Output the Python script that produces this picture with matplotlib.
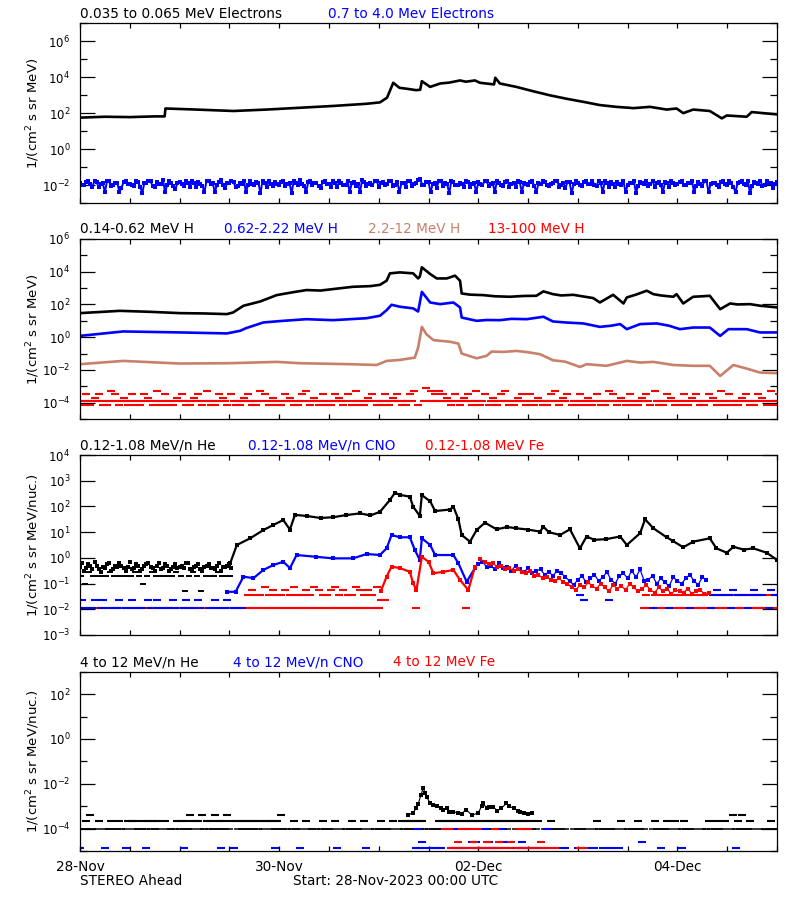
import numpy as np
import matplotlib
matplotlib.use('Agg')
import matplotlib.pyplot as plt

plt.rcParams['font.family'] = ['DejaVu Sans']
plt.rcParams['mathtext.default'] = 'regular'

# ---------------- data (hours from 28-Nov-2023 00:00 UTC, values as log10 flux) -------------
day_ticks = [0, 12, 24, 36, 48, 60, 72, 84, 96, 108, 120, 132, 144, 156, 168]
day_labels = ['28-Nov', '', '', '', '30-Nov', '', '', '', '02-Dec', '', '', '', '04-Dec', '', '']

# panel 1: electrons
e_lo_t = [0, 6, 12, 18, 20.4, 20.6, 28, 37, 45, 53, 61, 69, 72.3, 74, 75, 75.5, 77, 79, 81, 82, 82.4,
          84.4, 86.8, 89, 91.6, 93, 95.2, 96.4, 99.8, 100.1, 101.2, 105.2, 109.2, 113.3, 117.3, 121.3,
          125.3, 129.3, 133.4, 137.4, 141.4, 143.8, 145.4, 147.8, 151.8, 154.7, 155.9, 160.7, 161.9, 168]
e_lo_v = [1.75, 1.8, 1.78, 1.82, 1.82, 2.26, 2.2, 2.12, 2.2, 2.3, 2.4, 2.52, 2.6, 2.86, 3.41, 3.69,
          3.41, 3.35, 3.28, 3.3, 3.78, 3.46, 3.65, 3.7, 3.82, 3.75, 3.82, 3.69, 3.6, 3.97, 3.65, 3.46,
          3.22, 2.99, 2.8, 2.63, 2.45, 2.35, 2.28, 2.35, 2.2, 2.26, 2.0, 2.2, 2.12, 1.71, 1.87, 1.8,
          2.06, 1.93]
# 0.7-4.0 MeV electrons, samples at :00 and :30 of every hour
e_hi_a = [-1.9, -2.0, -1.8, -2.1, -1.85, -1.95, -2.4, -1.8, -2.0, -1.9, -2.15, -1.75, -1.95, -2.05, -1.85, -2.45, -1.9, -1.8, -2.1, -1.95, -1.7, -2.0, -1.9, -2.2,
          -1.85, -2.05, -1.9, -1.75, -2.1, -1.95, -2.4, -1.8, -1.9, -2.0, -1.7, -2.15, -1.9, -1.85, -2.05, -1.95, -2.4, -1.8, -2.0, -1.9, -1.75, -2.1, -1.95, -1.85,
          -2.0, -1.8, -1.95, -2.45, -1.9, -1.7, -2.05, -1.85, -2.0, -1.9, -2.15, -1.8, -1.95, -1.75, -2.1, -1.9, -2.0, -2.4, -1.85, -1.95, -1.7, -2.05, -1.9, -1.8,
          -2.1, -1.85, -1.95, -1.8, -2.0, -2.4, -1.9, -1.75, -2.05, -1.9, -1.65, -2.0, -1.85, -1.95, -2.15, -1.8, -1.9, -2.45, -1.85, -2.0, -1.95, -1.75, -2.1, -1.9,
          -1.85, -2.0, -1.8, -1.95, -2.4, -1.9, -2.05, -1.75, -1.95, -2.1, -1.85, -1.9, -2.0, -1.8, -2.4, -1.95, -1.85, -2.05, -1.9, -1.75, -2.0, -2.15, -1.85, -1.95,
          -1.9, -2.05, -1.8, -1.95, -2.0, -1.75, -2.4, -1.9, -1.85, -2.1, -1.95, -1.8, -2.0, -1.9, -2.45, -1.85, -1.95, -2.05, -1.75, -1.9, -2.0, -1.85, -2.1, -1.9,
          -1.95, -1.8, -2.0, -1.9, -2.4, -1.85, -2.05, -1.75, -1.95, -1.9, -2.1, -1.8, -2.0, -1.9, -2.4, -1.85, -1.95, -1.8, -2.05, -1.9, -1.75, -2.0, -1.9, -2.15,
          -1.85]
e_hi_b = [-2.0, -1.85, -1.95, -1.75, -2.1, -1.9, -1.8, -2.05, -1.9, -2.4, -1.85, -1.95, -2.0, -1.8, -2.1, -1.9, -1.75, -2.05, -1.85, -1.95, -2.4, -1.8, -2.05, -1.9,
          -1.95, -1.8, -2.1, -1.9, -1.85, -2.05, -1.75, -1.95, -2.4, -1.85, -2.0, -1.9, -1.8, -2.1, -1.9, -1.75, -2.0, -1.95, -1.85, -2.45, -1.9, -1.8, -2.05, -1.95,
          -1.85, -2.05, -1.9, -1.8, -2.0, -1.95, -2.4, -1.75, -1.9, -2.05, -1.85, -1.95, -2.1, -1.9, -1.8, -2.0, -1.75, -1.9, -2.05, -2.4, -1.85, -1.95, -2.0, -1.75,
          -1.9, -2.0, -1.75, -2.05, -1.85, -1.9, -2.1, -1.8, -1.95, -1.7, -2.0, -1.85, -2.4, -1.9, -1.75, -2.05, -1.95, -1.8, -2.0, -1.9, -2.1, -1.85, -1.95, -2.4,
          -1.95, -1.8, -2.05, -1.9, -1.75, -2.0, -1.85, -2.1, -1.9, -1.8, -2.4, -1.95, -1.85, -2.05, -1.9, -1.75, -2.0, -1.95, -1.8, -2.1, -1.9, -1.85, -2.45, -1.8,
          -2.0, -1.85, -1.95, -1.75, -2.05, -1.9, -1.8, -2.1, -1.95, -1.85, -2.0, -2.4, -1.9, -1.75, -2.05, -1.9, -1.8, -1.95, -2.1, -1.85, -2.4, -1.9, -1.8, -2.0,
          -1.85, -2.0, -1.9, -1.75, -2.05, -1.95, -1.8, -2.4, -1.9, -2.0, -1.85, -1.95, -1.75, -2.1, -1.9, -1.8, -2.0, -2.45, -1.85, -1.95, -2.05, -1.8, -1.9, -1.95,
          -2.0]

# panel 2: protons
h_lo_t = [0, 9.6, 16.9, 24.1, 30, 35.4, 36.9, 39.4, 43.4, 47.4, 51.4, 54.6, 58, 61, 65.8, 70, 72.3, 73.9,
          74.7, 77.1, 80.3, 81.5, 81.9, 82.4, 84.4, 86, 88.4, 90.4, 91.6, 92, 94, 97.2, 100, 103.6,
          107, 110, 111.7, 114, 116, 118.9, 121, 123.7, 125.3, 128.5, 131, 131.8, 134, 136.6, 138.2,
          140, 143, 143.8, 145.4, 147.8, 150, 151.8, 154.3, 156.7, 158.5, 161.5, 164, 168]
h_lo_v = [1.47, 1.61, 1.55, 1.47, 1.45, 1.41, 1.51, 1.92, 2.18, 2.57, 2.75, 2.88, 2.85, 2.94, 3.08, 3.12,
          3.2, 3.45, 3.9, 3.96, 3.9, 3.59, 3.7, 4.27, 3.86, 3.59, 3.59, 3.76, 3.45, 2.67, 2.6, 2.57,
          2.5, 2.47, 2.52, 2.53, 2.8, 2.63, 2.55, 2.59, 2.5, 2.39, 2.12, 2.59, 2.06, 2.43, 2.6, 2.84,
          2.63, 2.55, 2.47, 2.63, 2.06, 2.47, 2.5, 2.53, 1.71, 2.06, 2.0, 2.02, 1.92, 1.82]
h_mid_t = [0, 10.4, 24.1, 35.4, 38.6, 40, 44.2, 49, 54.6, 61, 69.1, 72.3, 73.9, 75.1, 77.1, 80.3, 81.5,
           82.4, 84.4, 86.8, 90, 91.6, 92, 95.6, 98, 101.2, 104, 107.7, 111.7, 114, 117, 121.3, 125.3,
           128, 130.2, 131.8, 135, 139, 142, 144.6, 147.8, 151.8, 154.3, 156.3, 160.7, 163.9, 168]
h_mid_v = [0.08, 0.35, 0.29, 0.23, 0.39, 0.55, 0.9, 1.0, 1.1, 1.04, 1.16, 1.31, 1.65, 1.98, 1.86, 1.76,
           1.57, 2.77, 2.12, 2.02, 2.12, 1.82, 1.2, 1.0, 1.05, 1.04, 1.12, 1.1, 1.25, 0.96, 0.9, 0.84,
           0.63, 0.7, 0.8, 0.49, 0.8, 0.84, 0.7, 0.49, 0.59, 0.59, 0.08, 0.49, 0.49, 0.29, 0.29]
h_hi_t = [0, 10.4, 24, 36, 47.4, 53, 65, 71.5, 73.9, 77.1, 80.7, 81.5, 82.4, 83.5, 85.2, 89.2, 91.2, 92,
          95.6, 98, 99.2, 102, 105.2, 108, 110.9, 114, 117, 120.5, 122.1, 126.9, 131.8, 135, 138.2,
          143, 147.8, 151.8, 154.3, 157.5, 160.7, 163.9, 168]
h_hi_v = [-1.65, -1.45, -1.61, -1.59, -1.51, -1.59, -1.65, -1.7, -1.45, -1.39, -1.25, -0.63, 0.63, 0.18,
          -0.18, -0.28, -0.39, -1.0, -1.29, -1.14, -0.88, -0.9, -0.84, -0.92, -1.04, -1.41, -1.5,
          -1.82, -1.65, -1.75, -1.45, -1.55, -1.51, -1.7, -1.75, -1.75, -2.37, -1.7, -1.92, -2.16, -2.2]
# 13-100 MeV H: count-quantised levels, hourly level codes at :00 and :30
h13_lv = [np.nan, 6.7e-5, 1.33e-4, 2.0e-4, 2.7e-4, 3.3e-4, 5.0e-4, 8.0e-4]
h13_a = [2, 2, 2, 2, 2, 0, 2, 2, 2, 2, 2, 2, 2, 2, 0, 2, 2, 2, 2, 2, 2, 2, 2, 2,
         2, 2, 2, 0, 2, 2, 2, 2, 2, 2, 2, 2, 0, 2, 2, 2, 2, 2, 2, 2, 2, 0, 2, 2,
         2, 2, 2, 2, 2, 2, 2, 0, 2, 2, 2, 2, 2, 2, 2, 2, 2, 0, 2, 2, 2, 2, 2, 2,
         2, 2, 2, 2, 2, 2, 2, 2, 2, 0, 0, 2, 2, 2, 2, 2, 2, 2, 2, 2, 2, 2, 2, 2,
         2, 2, 0, 2, 2, 2, 2, 2, 2, 2, 2, 2, 2, 0, 2, 2, 2, 2, 2, 2, 2, 2, 0, 2,
         2, 2, 2, 2, 2, 2, 0, 2, 2, 2, 2, 2, 2, 2, 2, 2, 2, 2, 0, 2, 2, 2, 2, 2,
         2, 2, 2, 2, 0, 2, 2, 2, 2, 2, 2, 2, 2, 2, 2, 2, 0, 2, 2, 2, 2, 2, 2, 2,
         2]
h13_b = [1, 5, 1, 3, 5, 1, 1, 6, 5, 1, 3, 1, 5, 1, 1, 5, 3, 1, 6, 1, 5, 1, 1, 3,
         5, 1, 1, 3, 5, 1, 6, 1, 1, 5, 3, 1, 5, 1, 1, 3, 5, 1, 1, 6, 5, 1, 3, 1,
         1, 5, 3, 1, 1, 5, 6, 1, 3, 1, 5, 1, 1, 5, 3, 1, 5, 1, 6, 1, 1, 3, 5, 1,
         1, 5, 1, 3, 5, 1, 1, 5, 6, 1, 0, 7, 6, 5, 6, 5, 3, 1, 5, 1, 3, 5, 1, 6,
         1, 5, 1, 3, 1, 5, 6, 1, 1, 3, 5, 1, 5, 1, 3, 1, 1, 5, 6, 1, 3, 5, 1, 1,
         5, 1, 3, 1, 5, 1, 1, 6, 5, 1, 3, 1, 5, 1, 1, 3, 5, 1, 6, 1, 1, 5, 3, 1,
         1, 5, 1, 3, 5, 1, 1, 5, 3, 1, 6, 1, 5, 1, 1, 3, 5, 1, 1, 5, 3, 1, 6, 1,
         5]

# panel 3: 0.12-1.08 MeV/n heavy ions
he_early_a = [-0.35, -0.5, -0.25, -0.45, -0.3, -0.55, -0.4, -0.2, -0.45, -0.35, -0.3, -0.5, -0.15,
              -0.4, -0.3, -0.45, -0.25, -0.35, -0.5, -0.2, -0.4, -0.3, -0.45, -0.25, -0.35, -0.4,
              -0.2, -0.5, -0.3, -0.45, -0.35, -0.25, -0.4, -0.3, -0.5, -0.35, -0.25]
he_early_c = [-0.2, -0.4, -0.3, -0.15, -0.45, -0.35, -0.25, -0.5, -0.3, -0.2, -0.4, -0.35, -0.45,
              -0.25, -0.5, -0.3, -0.2, -0.4, -0.3, -0.45, -0.25, -0.5, -0.35, -0.4, -0.3, -0.2,
              -0.45, -0.35, -0.25, -0.5, -0.3, -0.4, -0.45, -0.2, -0.35, -0.3, -0.4]
he_early_b = [-0.69, -1.0, -0.55, -0.69, -0.69, -0.69, -0.69, -0.55, -0.69, -0.69, -0.69, -0.69,
              -0.69, -0.55, -0.69, -1.0, -0.69, -0.55, -0.69, -0.69, -0.69, -0.69, -0.69, -0.55,
              -0.69, -1.29, -0.69, -0.55, -0.69, -1.29, -0.69, -0.69, -0.69, -0.55, -0.69, -0.69, -0.69]
he_t = [36.2, 37.8, 41, 44.2, 46.6, 49, 50.6, 51.8, 54.6, 58, 61, 64, 67.5, 70, 72.3, 74.7, 75.9, 77.1,
        79.5, 80.3, 81.9, 82.4, 84.4, 85.6, 89.2, 90, 91.2, 92, 94, 95.6, 97.6, 100.4, 103, 105.2,
        108, 110.9, 111.7, 113, 115.7, 118.1, 120.5, 122.1, 124, 126.9, 130.2, 131.8, 135, 136.2,
        138.2, 141.4, 143, 145.4, 147.8, 151.8, 153.4, 155.9, 157.5, 160, 162.3, 165.5, 168]
he_v = [-0.21, 0.5, 0.76, 1.08, 1.28, 1.47, 1.1, 1.67, 1.63, 1.55, 1.58, 1.66, 1.73, 1.65, 1.79, 2.25,
        2.53, 2.45, 2.38, 1.99, 1.63, 2.44, 2.2, 1.82, 1.88, 1.99, 1.5, 0.89, 0.63, 1.08, 1.37, 1.11,
        1.2, 1.15, 1.1, 1.02, 1.21, 1.0, 0.89, 1.11, 0.37, 0.83, 0.7, 0.73, 0.83, 0.5, 0.96, 1.5,
        1.15, 0.8, 0.65, 0.41, 0.63, 0.76, 0.37, 0.2, 0.43, 0.32, 0.37, 0.2, -0.08]
cno_t = [35.4, 37.5, 39.4, 41.8, 44.2, 46.6, 49, 50.6, 52.2, 57, 61, 65.8, 69.1, 72.3, 73.9, 75.1, 77.1,
         79.5, 80.7, 81.9, 82.4, 84.4, 85.6, 90, 91.2, 93.2, 95.2]
cno_v = [-1.32, -1.32, -0.73, -0.79, -0.47, -0.28, -0.15, -0.4, 0.11, 0.04, -0.02, -0.02, 0.15, 0.11,
         0.37, 0.89, 0.8, 0.8, 0.31, -0.08, 0.76, 0.5, 0.11, 0.11, -0.21, -0.93, -0.4]
fe_t = [72.5, 73.9, 75.1, 77.1, 79.5, 80.3, 81.1, 82.4, 84, 85.2, 87.6, 90, 91.6, 93.6, 95.2]
fe_v = [-1.3, -0.73, -0.34, -0.4, -0.54, -0.99, -1.25, 0.04, -0.15, -0.6, -0.54, -0.47, -0.86, -1.25,
        -0.34]
# hourly CNO and Fe from 96 h to 151 h
late_start = 96
cno_late = [-0.25, -0.15, -0.35, -0.3, -0.45, -0.2, -0.4, -0.35, -0.5, -0.3, -0.45, -0.55, -0.4, -0.6,
            -0.5, -0.45, -0.65, -0.55, -0.7, -0.5, -0.6, -0.75, -0.9, -1.05, -0.85, -0.7, -0.95, -0.8,
            -0.65, -0.9, -0.75, -0.55, -0.85, -1.0, -0.7, -0.6, -0.8, -0.5, -0.75, -0.45, -0.9, -0.85,
            -0.7, -1.0, -0.8, -0.95, -1.1, -0.75, -0.9, -1.0, -0.8, -0.65, -0.9, -1.05, -0.75, -0.85]
fe_late = [-0.05, -0.15, -0.25, -0.2, -0.35, -0.3, -0.45, -0.4, -0.5, -0.45, -0.55, -0.6, -0.5, -0.7,
           -0.65, -0.8, -0.75, -0.85, -0.9, -0.8, -0.95, -1.0, -1.15, -1.25, -1.05, -1.15, -0.95, -1.1,
           -1.2, -1.0, -1.15, -1.3, -1.05, -1.2, -1.1, -1.25, -1.0, -1.15, -1.3, -1.2, -1.05, -1.25,
           -1.35, -1.15, -1.3, -1.2, -1.4, -1.25, -1.3, -1.35, -1.2, -1.4, -1.3, -1.25, -1.4, -1.35]
# one-count floors, hourly level codes
p3_lv = [np.nan, 1.1e-2, 2.3e-2, 3.6e-2, 5.5e-2, 7.5e-2]
fe3_a = [1, 0] * 12 + [1, 0] * 6 + [1, 0, 1, 0] + [1] * 8 + [1] * 24 + \
        [1, 0, 0, 0, 0, 0, 0, 0, 0, 1, 0, 0, 0, 0, 0, 0, 0, 0, 0, 0, 0, 1, 0, 0] + [0] * 24 + \
        [0] * 16 + [1, 1, 0, 1, 1, 1, 0, 1] + \
        [1, 1, 1, 0, 1, 1, 1, 1, 0, 1, 1, 1, 1, 0, 1, 1, 1, 0, 1, 1, 1, 1, 0, 1] + [1]
cno3_a = [0, 1] * 12 + [0, 1] * 6 + [0, 1, 0, 1] + [0] * 8 + [0] * 72 + \
         [0] * 16 + [0, 0, 1, 0, 0, 0, 1, 0] + \
         [0, 0, 0, 1, 0, 0, 0, 0, 1, 0, 0, 0, 0, 1, 0, 0, 0, 1, 0, 0, 0, 0, 1, 0] + [0]
cno3_b = [2, 0, 0, 2, 0, 2, 0, 0, 0, 2, 0, 0, 2, 0, 0, 0, 2, 0, 2, 0, 0, 0, 2, 0] + \
         [0, 2, 0, 0, 2, 0, 0, 0, 2, 0, 0, 2] + [0] * 12 + [0] * 72 + \
         [3, 2, 0, 0, 0, 0, 0, 2] + [0] * 16 + \
         [0, 0, 0, 0, 0, 0, 0, 0, 3, 4, 3, 0, 3, 4, 3, 3, 0, 3, 4, 3, 3, 0, 4, 3] + [3]
fe3_b = [0] * 24 + [0] * 16 + [3, 4, 3, 3, 5, 3, 4, 3] + \
        [3, 4, 3, 5, 3, 3, 4, 3, 5, 4, 3, 3, 4, 5, 3, 4, 3, 3, 5, 4, 3, 4, 3, 5] + \
        [2, 2] + [0] * 22 + [0] * 24 + [0] * 16 + [3, 0, 3, 3, 0, 3, 0, 3] + \
        [3, 0, 3, 3, 0, 3, 3, 0, 3, 0, 3, 3, 0, 3, 0, 3, 3, 0, 3, 3, 0, 3, 0, 3] + [0]

# panel 4: 4-12 MeV/n
p4_lv = [np.nan, 1.3e-5, 2.6e-5, 1.0e-4, 2.1e-4, 4.2e-4]
he4_a = [3, 3, 3, 3, 3, 0, 3, 3, 3, 3, 3, 3, 0, 3, 3, 3, 3, 3, 3, 3, 0, 3, 3, 3,
         3, 3, 3, 3, 0, 3, 3, 3, 3, 3, 3, 3, 3, 0, 3, 3, 3, 3, 3, 3, 3, 0, 3, 3,
         3, 3, 3, 3, 3, 3, 0, 3, 3, 3, 3, 3, 3, 3, 0, 3, 3, 3, 3, 3, 3, 0, 3, 3,
         3, 3, 3, 3, 0, 3, 3, 3, 3, 3, 3, 3, 3, 3, 3, 3, 3, 3, 3, 0, 3, 3, 3, 3,
         3, 3, 3, 3, 3, 3, 3, 3, 0, 3, 3, 3, 3, 3, 3, 0, 3, 3, 3, 3, 3, 3, 0, 3,
         3, 3, 3, 0, 3, 3, 3, 3, 3, 3, 0, 3, 3, 3, 3, 3, 3, 0, 3, 3, 3, 3, 3, 0,
         3, 3, 3, 3, 3, 0, 3, 3, 3, 3, 3, 3, 0, 3, 3, 3, 3, 3, 3, 0, 3, 3, 3, 3,
         3]
he4_b = [0, 4, 5, 0, 4, 0, 0, 4, 0, 4, 0, 4, 4, 4, 0, 4, 4, 4, 4, 0, 4, 0, 0, 4,
         4, 4, 5, 4, 4, 5, 4, 4, 5, 4, 4, 5, 4, 4, 4, 4, 4, 4, 4, 4, 4, 4, 4, 4,
         5, 0, 0, 4, 0, 0, 4, 0, 0, 0, 4, 0, 0, 4, 0, 0, 0, 4, 0, 0, 4, 0, 0, 0,
         4, 0, 0, 4, 0, 4, 4, 4, 4, 4, 4, 0, 0, 0, 4, 4, 4, 4, 4, 4, 4, 4, 4, 4,
         4, 4, 4, 4, 4, 4, 4, 4, 4, 4, 4, 4, 4, 0, 4, 0, 0, 4, 0, 0, 0, 0, 0, 0,
         0, 0, 0, 0, 4, 0, 0, 0, 0, 0, 4, 0, 0, 0, 4, 0, 0, 0, 4, 0, 0, 4, 0, 4,
         0, 4, 0, 0, 0, 0, 0, 4, 0, 4, 0, 4, 0, 5, 4, 5, 0, 4, 0, 0, 0, 0, 4, 0,
         0]
he4_pk_t = [79, 80.3, 81, 81.5, 82.2, 82.7, 83.2, 83.6, 84.4, 85, 86, 87, 87.6, 88.5, 89, 90, 91, 92,
            93, 94.5, 96, 96.8, 97.2, 98, 98.5, 99.6, 100.5, 101.5, 102.8, 103.5, 104.5, 105.5, 106,
            107, 108, 109]
he4_pk_v = [-3.4, -3.29, -3.1, -2.9, -2.5, -2.2, -2.4, -2.6, -2.87, -2.95, -3.0, -3.1, -3.17, -3.1,
            -3.25, -3.24, -3.3, -3.35, -3.15, -3.4, -3.3, -3.0, -2.87, -3.1, -3.05, -3.02, -3.2,
            -3.1, -2.87, -3.0, -3.1, -3.2, -3.24, -3.3, -3.35, -3.3]
cno4_a = [1, 0, 0, 0, 0, 0, 1, 0, 0, 0, 0, 1, 0, 0, 0, 0, 1, 0, 0, 0, 0, 0, 0, 0,
          0, 1, 0, 0, 0, 0, 0, 0, 0, 0, 1, 0, 0, 1, 0, 0, 0, 0, 0, 0, 0, 0, 0, 1,
          0, 0, 0, 0, 0, 1, 0, 0, 0, 0, 0, 0, 0, 0, 1, 0, 0, 0, 0, 0, 0, 1, 0, 0,
          0, 0, 0, 0, 0, 0, 0, 0, 0, 1, 1, 1, 1, 1, 1, 1, 0, 0, 1, 1, 1, 1, 0, 1,
          1, 1, 1, 1, 1, 1, 0, 0, 1, 1, 1, 1, 1, 1, 1, 1, 0, 1, 0, 1, 0, 1, 0, 0,
          1, 0, 1, 0, 1, 0, 1, 0, 1, 0, 1, 0, 0, 0, 0, 0, 0, 0, 0, 0, 1, 0, 0, 0,
          0, 1, 0, 0, 0, 0, 0, 0, 0, 0, 0, 0, 0, 0, 1, 0, 0, 0, 0, 0, 0, 0, 0, 0,
          0]
cno4_b = [0] * 72 + \
         [0, 0, 0, 0, 0, 0, 0, 0, 0, 3, 2, 0, 0, 0, 0, 0, 0, 0, 3, 0, 3, 0, 2, 2] + \
         [0, 3, 2, 0, 0, 3, 2, 0, 0, 0, 2, 3, 0, 0, 0, 0, 3, 0, 0, 0, 0, 0, 0, 0] + \
         [0] * 15 + [2] + [0] * 8 + [0] * 25
fe4_a = [0] * 72 + \
        [0] * 16 + [0, 1, 1, 1, 1, 0, 1, 1] + \
        [1, 1, 1, 1, 1, 1, 1, 1, 0, 1, 1, 1, 1, 1, 1, 1, 1, 0, 1, 0, 0, 0, 0, 0] + \
        [1, 1] + [0] * 22 + [0] * 25
fe4_b = [0] * 72 + \
        [0] * 16 + [3, 3, 0, 2, 3, 0, 3, 2] + \
        [3, 0, 2, 0, 3, 2, 0, 0, 2, 0, 3, 0, 3, 0, 0, 2, 0, 0, 0, 0, 0, 0, 0, 0] + \
        [0] * 49

panel_titles = [
    [('0.035 to 0.065 MeV Electrons', 'black'), ('0.7 to 4.0 Mev Electrons', 'blue')],
    [('0.14-0.62 MeV H', 'black'), ('0.62-2.22 MeV H', 'blue'), ('2.2-12 MeV H', '#C8806A'),
     ('13-100 MeV H', 'red')],
    [('0.12-1.08 MeV/n He', 'black'), ('0.12-1.08 MeV/n CNO', 'blue'), ('0.12-1.08 MeV Fe', 'red')],
    [('4 to 12 MeV/n He', 'black'), ('4 to 12 MeV/n CNO', 'blue'), ('4 to 12 MeV Fe', 'red')],
]
ylabels = ['1/(cm$^2$ s sr MeV)', '1/(cm$^2$ s sr MeV)',
           '1/(cm$^2$ s sr MeV/nuc.)', '1/(cm$^2$ s sr MeV/nuc.)']

# ---------------- layout ----------------
W, H = 800, 900
boxes = [(23.3, 203), (239, 419), (455, 635), (671.7, 851)]   # top, bottom in px
title_x = [[80, 328], [80, 224, 368, 488], [80, 248, 425], [80, 233, 393]]
ylims = [(1e-3, 1e7), (1e-5, 1e6), (1e-3, 1e4), (1e-5, 1e3)]
major_exp = [range(-2, 7, 2), range(-4, 7, 2), range(-3, 5), range(-4, 3, 2)]
minor_exp = [range(-3, 8, 2), range(-5, 6, 2), [], range(-5, 4, 2)]

fig = plt.figure(figsize=(W / 100, H / 100), dpi=100)
axes = []
for i, (top, bot) in enumerate(boxes):
    ax = fig.add_axes([80 / W, 1 - bot / H, 697 / W, (bot - top) / H])
    ax.set_yscale('log')
    ax.set_xlim(0, 168)
    ax.set_ylim(*ylims[i])
    ax.set_yticks([10.0 ** e for e in major_exp[i]])
    ax.set_yticklabels(['$10^{%d}$' % e for e in major_exp[i]])
    ax.set_yticks([10.0 ** e for e in minor_exp[i]], minor=True)
    ax.set_yticklabels([], minor=True)
    ax.set_xticks(day_ticks)
    ax.set_xticklabels(day_labels if i == 3 else [])
    ax.tick_params(axis='y', which='major', direction='in', length=10.8, width=0.9,
                   right=True, labelsize=8.5, pad=7)
    ax.tick_params(axis='y', which='minor', direction='in', length=5, width=0.9, right=True)
    ax.tick_params(axis='x', which='major', direction='in', length=3.6, width=0.9,
                   top=True, labelsize=9.8, pad=6.5)
    for s in ax.spines.values():
        s.set_linewidth(0.9)
    for (txt, col), x in zip(panel_titles[i], title_x[i]):
        fig.text(x / W, 1 - (top - 5.5) / H, txt, color=col, fontsize=9.8, va='baseline', ha='left')
    fig.text(33 / W, 1 - (top + bot) / 2 / H, ylabels[i], rotation=90, fontsize=9.5,
             ha='center', va='center')
    axes.append(ax)

fig.text(80 / W, 1 - 885 / H, 'STEREO Ahead', fontsize=9.8, va='baseline')
fig.text(292.7 / W, 1 - 885 / H, 'Start: 28-Nov-2023 00:00 UTC', fontsize=9.8, va='baseline')


def lin(v):
    return 10.0 ** np.asarray(v, dtype=float)


def codes(ax, c, lv, color, off=0.0, mew=1.5):
    hrs = np.arange(len(c)) + off
    vals = np.array([lv[k] for k in c], dtype=float)
    ax.plot(hrs, vals, ls='none', marker='_', ms=5.5, mew=mew, color=color)


def dots(ax, t, v, color, ms=2.0):
    ax.plot(t, lin(v), ls='none', marker='s', ms=ms, mew=0, color=color)


SIENNA = '#C8806A'

# panel 1
ax = axes[0]
ha = np.arange(len(e_hi_a))
t_hi = np.concatenate([ha, ha + 0.5])
v_hi = np.concatenate([e_hi_a, e_hi_b])
order = np.argsort(t_hi)
ax.plot(t_hi[order], lin(v_hi[order]), color='blue', lw=1.4)
dots(ax, t_hi, v_hi, 'blue', ms=2.2)
ax.plot(e_lo_t, lin(e_lo_v), color='black', lw=1.9)

# panel 2
ax = axes[1]
codes(ax, h13_a, h13_lv, 'red')
codes(ax, h13_b, h13_lv, 'red', off=0.5)
ax.plot(h_hi_t, lin(h_hi_v), color=SIENNA, lw=1.9)
ax.plot(h_mid_t, lin(h_mid_v), color='blue', lw=1.9)
ax.plot(h_lo_t, lin(h_lo_v), color='black', lw=1.9)

# panel 3
ax = axes[2]
codes(ax, fe3_a, p3_lv, 'red')
codes(ax, cno3_a, p3_lv, 'blue')
codes(ax, fe3_b, p3_lv, 'red', off=0.5)
codes(ax, cno3_b, p3_lv, 'blue', off=0.5)
early = np.arange(len(he_early_a))
dots(ax, early, he_early_a, 'black', ms=2.3)
dots(ax, early + 0.5, he_early_c, 'black', ms=2.3)
ax.plot(early + 0.25, lin(he_early_b), ls='none', marker='_', ms=4, mew=1.4, color='black')
ax.plot(he_t, lin(he_v), color='black', lw=1.6, marker='s', ms=2.2, mew=0)
ax.plot(cno_t, lin(cno_v), color='blue', lw=1.6, marker='s', ms=2.2, mew=0)
late = np.arange(len(cno_late)) + late_start
ax.plot(late, lin(cno_late), color='blue', lw=0.9, marker='s', ms=2.6, mew=0)
ax.plot(fe_t, lin(fe_v), color='red', lw=1.6, marker='s', ms=2.2, mew=0)
ax.plot(late + 0.5, lin(fe_late), color='red', lw=0.9, marker='s', ms=2.6, mew=0)

# panel 4
ax = axes[3]
codes(ax, he4_a, p4_lv, 'black', mew=1.1)
codes(ax, he4_b, p4_lv, 'black', off=0.5)
codes(ax, cno4_a, p4_lv, 'blue')
codes(ax, cno4_b, p4_lv, 'blue', off=0.5)
codes(ax, fe4_a, p4_lv, 'red', off=0.5)
codes(ax, fe4_b, p4_lv, 'red')
ax.plot(he4_pk_t, lin(he4_pk_v), color='black', lw=0.8, marker='s', ms=2.4, mew=0)

fig.savefig('out.png', dpi=100)
